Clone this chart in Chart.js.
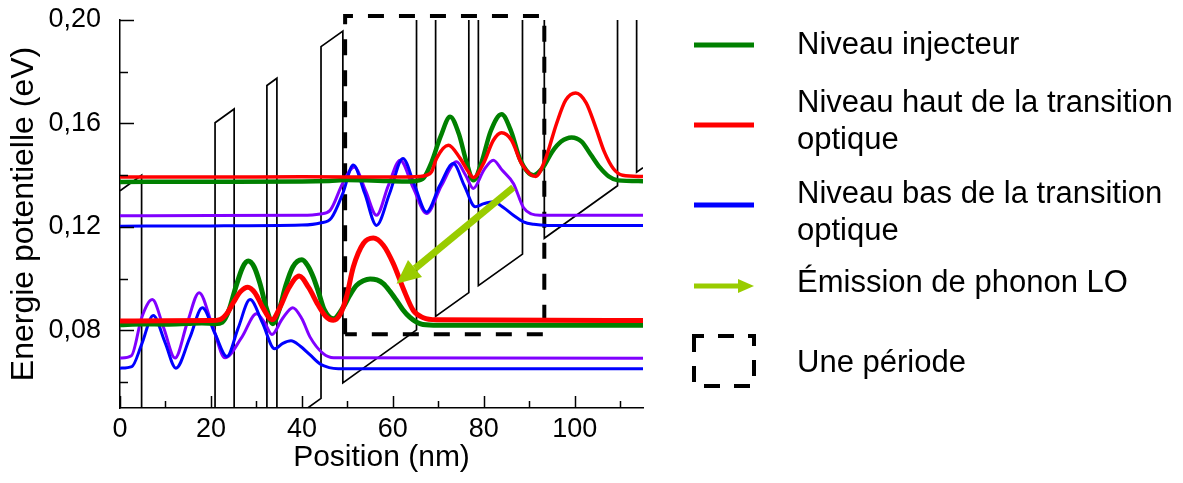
<!DOCTYPE html>
<html>
<head>
<meta charset="utf-8">
<script src="https://cdn.jsdelivr.net/npm/chart.js@4.4.0/dist/chart.umd.min.js"></script>
<style>
  html, body { margin: 0; padding: 0; background: #fff; }
  #wrap { width: 1183px; height: 483px; }
</style>
</head>
<body>
<div id="wrap"><canvas id="myChart" width="1183" height="483"></canvas></div>
<script>
// ---- données (position en nm, énergie en eV) ----

// profil de potentiel (bande de conduction)
var potX = [0, 4.75, 4.75, 20.9, 20.9, 25.1, 25.1, 32.3, 32.3, 34.5, 34.5, 44.2, 44.2, 49.0, 49.0, 65.2, 65.2, 69.4, 69.4, 76.7, 76.7, 78.8, 78.8, 88.5, 88.5, 93.3, 93.3, 109.4, 109.4, 113.6, 113.6, 115];
var potV = [0.134, 0.140, 0.004, 0.0243, 0.1603, 0.1656, 0.0296, 0.0387, 0.1747, 0.1775, 0.0415, 0.0537, 0.1897, 0.1957, 0.0597, 0.0802, 0.2162, 0.2214, 0.0854, 0.0946, 0.2306, 0.2333, 0.0973, 0.1095, 0.2455, 0.2516, 0.1156, 0.1359, 0.2719, 0.2772, 0.1412, 0.1429];

// niveau injecteur (vert), période basse et période haute
var greenLowX = [0, 5, 10, 15, 18, 21, 22.5, 24, 25.5, 27, 28.2, 29.5, 30.8, 32.2, 33.6, 35, 36.5, 38, 40, 41.3, 42.5, 43.7, 44.9, 46.9, 49.1, 50.5, 52, 53.5, 55, 56.5, 57.9, 59.4, 60.8, 62.2, 63.7, 65.2, 66.6, 70, 115];
var greenLowV = [0.0822, 0.0825, 0.0824, 0.0827, 0.0829, 0.0826, 0.0832, 0.0880, 0.0970, 0.1045, 0.1068, 0.1045, 0.0980, 0.0885, 0.0826, 0.0880, 0.0975, 0.1045, 0.1073, 0.1050, 0.1006, 0.0945, 0.0880, 0.0845, 0.0890, 0.0935, 0.0974, 0.0992, 0.0999, 0.0995, 0.0981, 0.0950, 0.0916, 0.0880, 0.0851, 0.0832, 0.0823, 0.0820, 0.0820];
var greenUpX = [0, 20, 40, 46, 50, 54, 58, 62, 65, 66.8, 68.5, 70.5, 72.6, 74.5, 76.2, 77.7, 79.5, 81.5, 83.9, 86, 88, 90.9, 93, 95, 97, 99.3, 101.5, 103.5, 105.5, 107.5, 109.5, 115];
var greenUpV = [0.1374, 0.1375, 0.1376, 0.1378, 0.1381, 0.1380, 0.1378, 0.1376, 0.1378, 0.1390, 0.1450, 0.1550, 0.1626, 0.1560, 0.1450, 0.1380, 0.1450, 0.1570, 0.1636, 0.1570, 0.1460, 0.1400, 0.1430, 0.1490, 0.1530, 0.1546, 0.1530, 0.1480, 0.1430, 0.1395, 0.1380, 0.1377];

// niveau haut de la transition optique (rouge)
var redLowX = [0, 10, 20, 22, 23.5, 25, 26.5, 28.1, 29.7, 31.5, 33.4, 35.2, 37, 39.4, 41.5, 43.5, 45.2, 46.9, 48.5, 49.8, 51.3, 53.5, 55.7, 57.9, 60.1, 62.3, 64.5, 66.7, 69.6, 115];
var redLowV = [0.0836, 0.0837, 0.0838, 0.0842, 0.0865, 0.0910, 0.0950, 0.0967, 0.0945, 0.0885, 0.0841, 0.0890, 0.0960, 0.1010, 0.0965, 0.0900, 0.0855, 0.0839, 0.0865, 0.0930, 0.1045, 0.1136, 0.1157, 0.1129, 0.1058, 0.0961, 0.0877, 0.0849, 0.0841, 0.0838];
var redUpX = [0, 20, 40, 60, 66, 67.4, 68.5, 69.6, 72.2, 74.8, 76.6, 77.7, 79.9, 82.1, 83.9, 86.1, 88.3, 91.4, 93.5, 96, 98, 100.2, 102.5, 104.5, 106.5, 108.5, 110.5, 115];
var redUpV = [0.1393, 0.1393, 0.1394, 0.1393, 0.1395, 0.1400, 0.1413, 0.1465, 0.1516, 0.1465, 0.1413, 0.1391, 0.1445, 0.1535, 0.1564, 0.1535, 0.1445, 0.1395, 0.1460, 0.1600, 0.1690, 0.1718, 0.1680, 0.1590, 0.1490, 0.1425, 0.1400, 0.1395];

// niveau bas de la transition optique (bleu)
var blueLowX = [0, 2.6, 4.8, 7.3, 9.9, 12.3, 15.4, 18.1, 20.9, 23.5, 26, 28.6, 31.3, 34.0, 35.8, 37.6, 39.6, 41.8, 44, 46, 48, 115];
var blueLowV = [0.0654, 0.0660, 0.0748, 0.0858, 0.0754, 0.0654, 0.0774, 0.0888, 0.0787, 0.0699, 0.0810, 0.0919, 0.0830, 0.0729, 0.0750, 0.0760, 0.0740, 0.0705, 0.0670, 0.0656, 0.0652, 0.0652];
var blueUpX = [0, 20, 40, 44, 46.5, 49, 51.3, 53.8, 56.4, 59.3, 62.2, 64.8, 67.4, 70.3, 73.3, 75.7, 78.1, 80, 82.1, 84.3, 86.5, 88.7, 91, 94, 115];
var blueUpV = [0.1203, 0.1204, 0.1207, 0.1215, 0.1235, 0.1330, 0.1439, 0.1330, 0.1206, 0.1330, 0.1465, 0.1360, 0.1258, 0.1360, 0.1445, 0.1360, 0.1278, 0.1290, 0.1297, 0.1275, 0.1245, 0.1220, 0.1210, 0.1206, 0.1206];

// autre niveau (violet, hors légende)
var purpleLowX = [0, 2.5, 4.8, 7.1, 9.6, 12.1, 14.8, 17.4, 20.3, 23.1, 26.8, 30.0, 31.8, 33.4, 35.7, 38.0, 40.0, 41.8, 44.7, 47, 115];
var purpleLowV = [0.0693, 0.0702, 0.0851, 0.0919, 0.0810, 0.0693, 0.0830, 0.0946, 0.0820, 0.0694, 0.0774, 0.0864, 0.0830, 0.0784, 0.0845, 0.0888, 0.0845, 0.0774, 0.0710, 0.0694, 0.0692];
var purpleUpX = [0, 20, 40, 44, 46.2, 49, 51.5, 54, 56.4, 59, 61.6, 64.5, 67.4, 70.7, 74.0, 76, 77.7, 80, 82.1, 84, 86.5, 88.7, 90.5, 92.3, 115];
var purpleUpV = [0.1243, 0.1244, 0.1245, 0.1250, 0.1264, 0.1370, 0.1432, 0.1340, 0.1245, 0.1360, 0.1458, 0.1350, 0.1252, 0.1360, 0.1452, 0.1400, 0.1349, 0.1420, 0.1458, 0.1420, 0.1368, 0.1275, 0.1250, 0.1245, 0.1245];

// une période (cadre pointillé) et émission de phonon LO (flèche)
var periodX = [49.5, 49.5, 93.3, 93.3, 49.5];
var periodV = [0.0785, 0.2015, 0.2015, 0.0785, 0.0785];
var arrowFrom = [86.5, 0.1353];
var arrowTo = [60.8, 0.0980];

// graduations
var xTicks = [0, 10, 20, 30, 40, 50, 60, 70, 80, 90, 100, 110];
var yTicks = [0.06, 0.08, 0.10, 0.12, 0.14, 0.16, 0.18, 0.20];

// légende
var legendLabels = [
  ['Niveau injecteur'],
  ['Niveau haut de la transition', 'optique'],
  ['Niveau bas de la transition', 'optique'],
  ['Émission de phonon LO'],
  ['Une période']
];

var GREEN = '#008000', RED = '#ff0000', BLUE = '#0000ff', PURPLE = '#8000ff', LIME = '#99cc00';
var FONT = '"Liberation Sans", Arial, Helvetica, sans-serif';

function pts(xs, ys) {
  return xs.map(function (x, i) { return { x: x, y: ys[i] }; });
}

function curve(xs, ys, color, width) {
  return {
    data: pts(xs, ys),
    borderColor: color,
    borderWidth: width,
    pointRadius: 0,
    fill: false,
    cubicInterpolationMode: 'monotone'
  };
}

function isMajorY(v) { return Math.round(v * 100) % 4 === 0; }
function isMajorX(v) { return v % 20 === 0; }

function drawArrow(ctx, x1, y1, x2, y2, w, headLen, headW, color) {
  var ang = Math.atan2(y2 - y1, x2 - x1);
  var bx = x2 - headLen * Math.cos(ang), by = y2 - headLen * Math.sin(ang);
  ctx.save();
  ctx.strokeStyle = color; ctx.fillStyle = color; ctx.lineWidth = w; ctx.lineCap = 'butt';
  ctx.beginPath(); ctx.moveTo(x1, y1); ctx.lineTo(bx, by); ctx.stroke();
  ctx.beginPath();
  ctx.moveTo(x2, y2);
  ctx.lineTo(bx + headW / 2 * Math.sin(ang), by - headW / 2 * Math.cos(ang));
  ctx.lineTo(bx - headW / 2 * Math.sin(ang), by + headW / 2 * Math.cos(ang));
  ctx.closePath(); ctx.fill();
  ctx.restore();
}

// graduations vers l'intérieur
var innerTicks = {
  id: 'innerTicks',
  afterDraw: function (chart) {
    var ctx = chart.ctx, xs = chart.scales.x, ys = chart.scales.y, a = chart.chartArea;
    ctx.save();
    ctx.strokeStyle = '#000';
    ctx.lineWidth = 1.5;
    yTicks.forEach(function (v) {
      var py = Math.round(ys.getPixelForValue(v)) + 0.5;
      var len = isMajorY(v) ? 14 : 8;
      ctx.beginPath(); ctx.moveTo(a.left, py); ctx.lineTo(a.left + len, py); ctx.stroke();
    });
    xTicks.forEach(function (v) {
      var px = Math.round(xs.getPixelForValue(v)) + 0.5;
      var len = isMajorX(v) ? 12 : 7;
      ctx.beginPath(); ctx.moveTo(px, a.bottom); ctx.lineTo(px, a.bottom - len); ctx.stroke();
    });
    ctx.restore();
  }
};

// flèche verte sur le graphe
var phononArrow = {
  id: 'phononArrow',
  afterDatasetsDraw: function (chart) {
    var xs = chart.scales.x, ys = chart.scales.y;
    drawArrow(chart.ctx,
      xs.getPixelForValue(arrowFrom[0]), ys.getPixelForValue(arrowFrom[1]),
      xs.getPixelForValue(arrowTo[0]), ys.getPixelForValue(arrowTo[1]),
      7, 24, 22, LIME);
  }
};

// légende à droite
var sideLegend = {
  id: 'sideLegend',
  afterDraw: function (chart) {
    var ctx = chart.ctx;
    var x0 = 694, x1 = 754, tx = 797;
    ctx.save();
    ctx.font = '31px ' + FONT;
    ctx.fillStyle = '#000';
    ctx.textAlign = 'left';
    ctx.textBaseline = 'alphabetic';

    function sample(y, color) {
      ctx.strokeStyle = color; ctx.lineWidth = 5; ctx.setLineDash([]);
      ctx.beginPath(); ctx.moveTo(x0, y); ctx.lineTo(x1, y); ctx.stroke();
    }
    sample(45, GREEN);
    sample(125, RED);
    sample(205, BLUE);
    drawArrow(ctx, x0, 286, x1, 286, 5, 16, 14, LIME);
    ctx.strokeStyle = '#000'; ctx.lineWidth = 4; ctx.setLineDash([16, 14]); ctx.lineDashOffset = 6;
    ctx.strokeRect(694, 336, 60, 50);
    ctx.setLineDash([]);

    var baselines = [[54], [112, 149], [203, 240], [292], [372]];
    legendLabels.forEach(function (lines, i) {
      lines.forEach(function (t, j) { ctx.fillText(t, tx, baselines[i][j]); });
    });
    ctx.restore();
  }
};

Chart.defaults.font.family = FONT;
Chart.defaults.color = '#000';

var ctx = document.getElementById('myChart').getContext('2d');

var potential = {
  data: pts(potX, potV), borderColor: '#000', borderWidth: 1.7, pointRadius: 0, tension: 0, fill: false
};
var period = {
  data: pts(periodX, periodV), borderColor: '#000', borderWidth: 4, borderDash: [16, 15],
  pointRadius: 0, tension: 0, fill: false, clip: false
};

var myChart = new Chart(ctx, {
  type: 'line',
  data: {
    datasets: [
      curve(redLowX, redLowV, RED, 5),
      curve(redUpX, redUpV, RED, 3.5),
      curve(greenLowX, greenLowV, GREEN, 5),
      curve(greenUpX, greenUpV, GREEN, 4.5),
      curve(blueLowX, blueLowV, BLUE, 3),
      curve(blueUpX, blueUpV, BLUE, 3),
      curve(purpleLowX, purpleLowV, PURPLE, 3),
      curve(purpleUpX, purpleUpV, PURPLE, 3),
      period,
      potential
    ]
  },
  options: {
    responsive: false,
    animation: false,
    devicePixelRatio: 1,
    layout: { padding: { top: 20, right: 540, left: 0, bottom: 0 } },
    plugins: { legend: { display: false }, tooltip: { enabled: false } },
    scales: {
      x: {
        type: 'linear', min: 0, max: 115,
        afterBuildTicks: function (s) { s.ticks = xTicks.map(function (v) { return { value: v }; }); },
        afterFit: function (s) { s.height = 75; s.paddingLeft = 0; s.paddingRight = 0; },
        grid: { display: false, drawTicks: false },
        border: { display: true, color: '#000', width: 1.5 },
        ticks: {
          autoSkip: false, maxRotation: 0, padding: 5, font: { size: 27 }, color: '#000',
          callback: function (v) { return isMajorX(v) ? String(v) : ''; }
        },
        title: { display: true, text: 'Position (nm)', font: { size: 30 }, color: '#000', padding: { top: 0, bottom: 7 } }
      },
      y: {
        type: 'linear', min: 0.05, max: 0.20,
        afterBuildTicks: function (s) { s.ticks = yTicks.map(function (v) { return { value: v }; }); },
        afterFit: function (s) { s.width = 120; s.paddingTop = 0; s.paddingBottom = 0; },
        grid: { display: false, drawTicks: false },
        border: { display: true, color: '#000', width: 1.5 },
        ticks: {
          autoSkip: false, padding: 19, font: { size: 27 }, color: '#000',
          callback: function (v) { return isMajorY(v) ? v.toFixed(2).replace('.', ',') : ''; }
        },
        title: { display: true, text: 'Energie potentielle (eV)', font: { size: 32 }, color: '#000', padding: { top: 5, bottom: 0 } }
      }
    }
  },
  plugins: [innerTicks, phononArrow, sideLegend]
});
</script>
</body>
</html>
